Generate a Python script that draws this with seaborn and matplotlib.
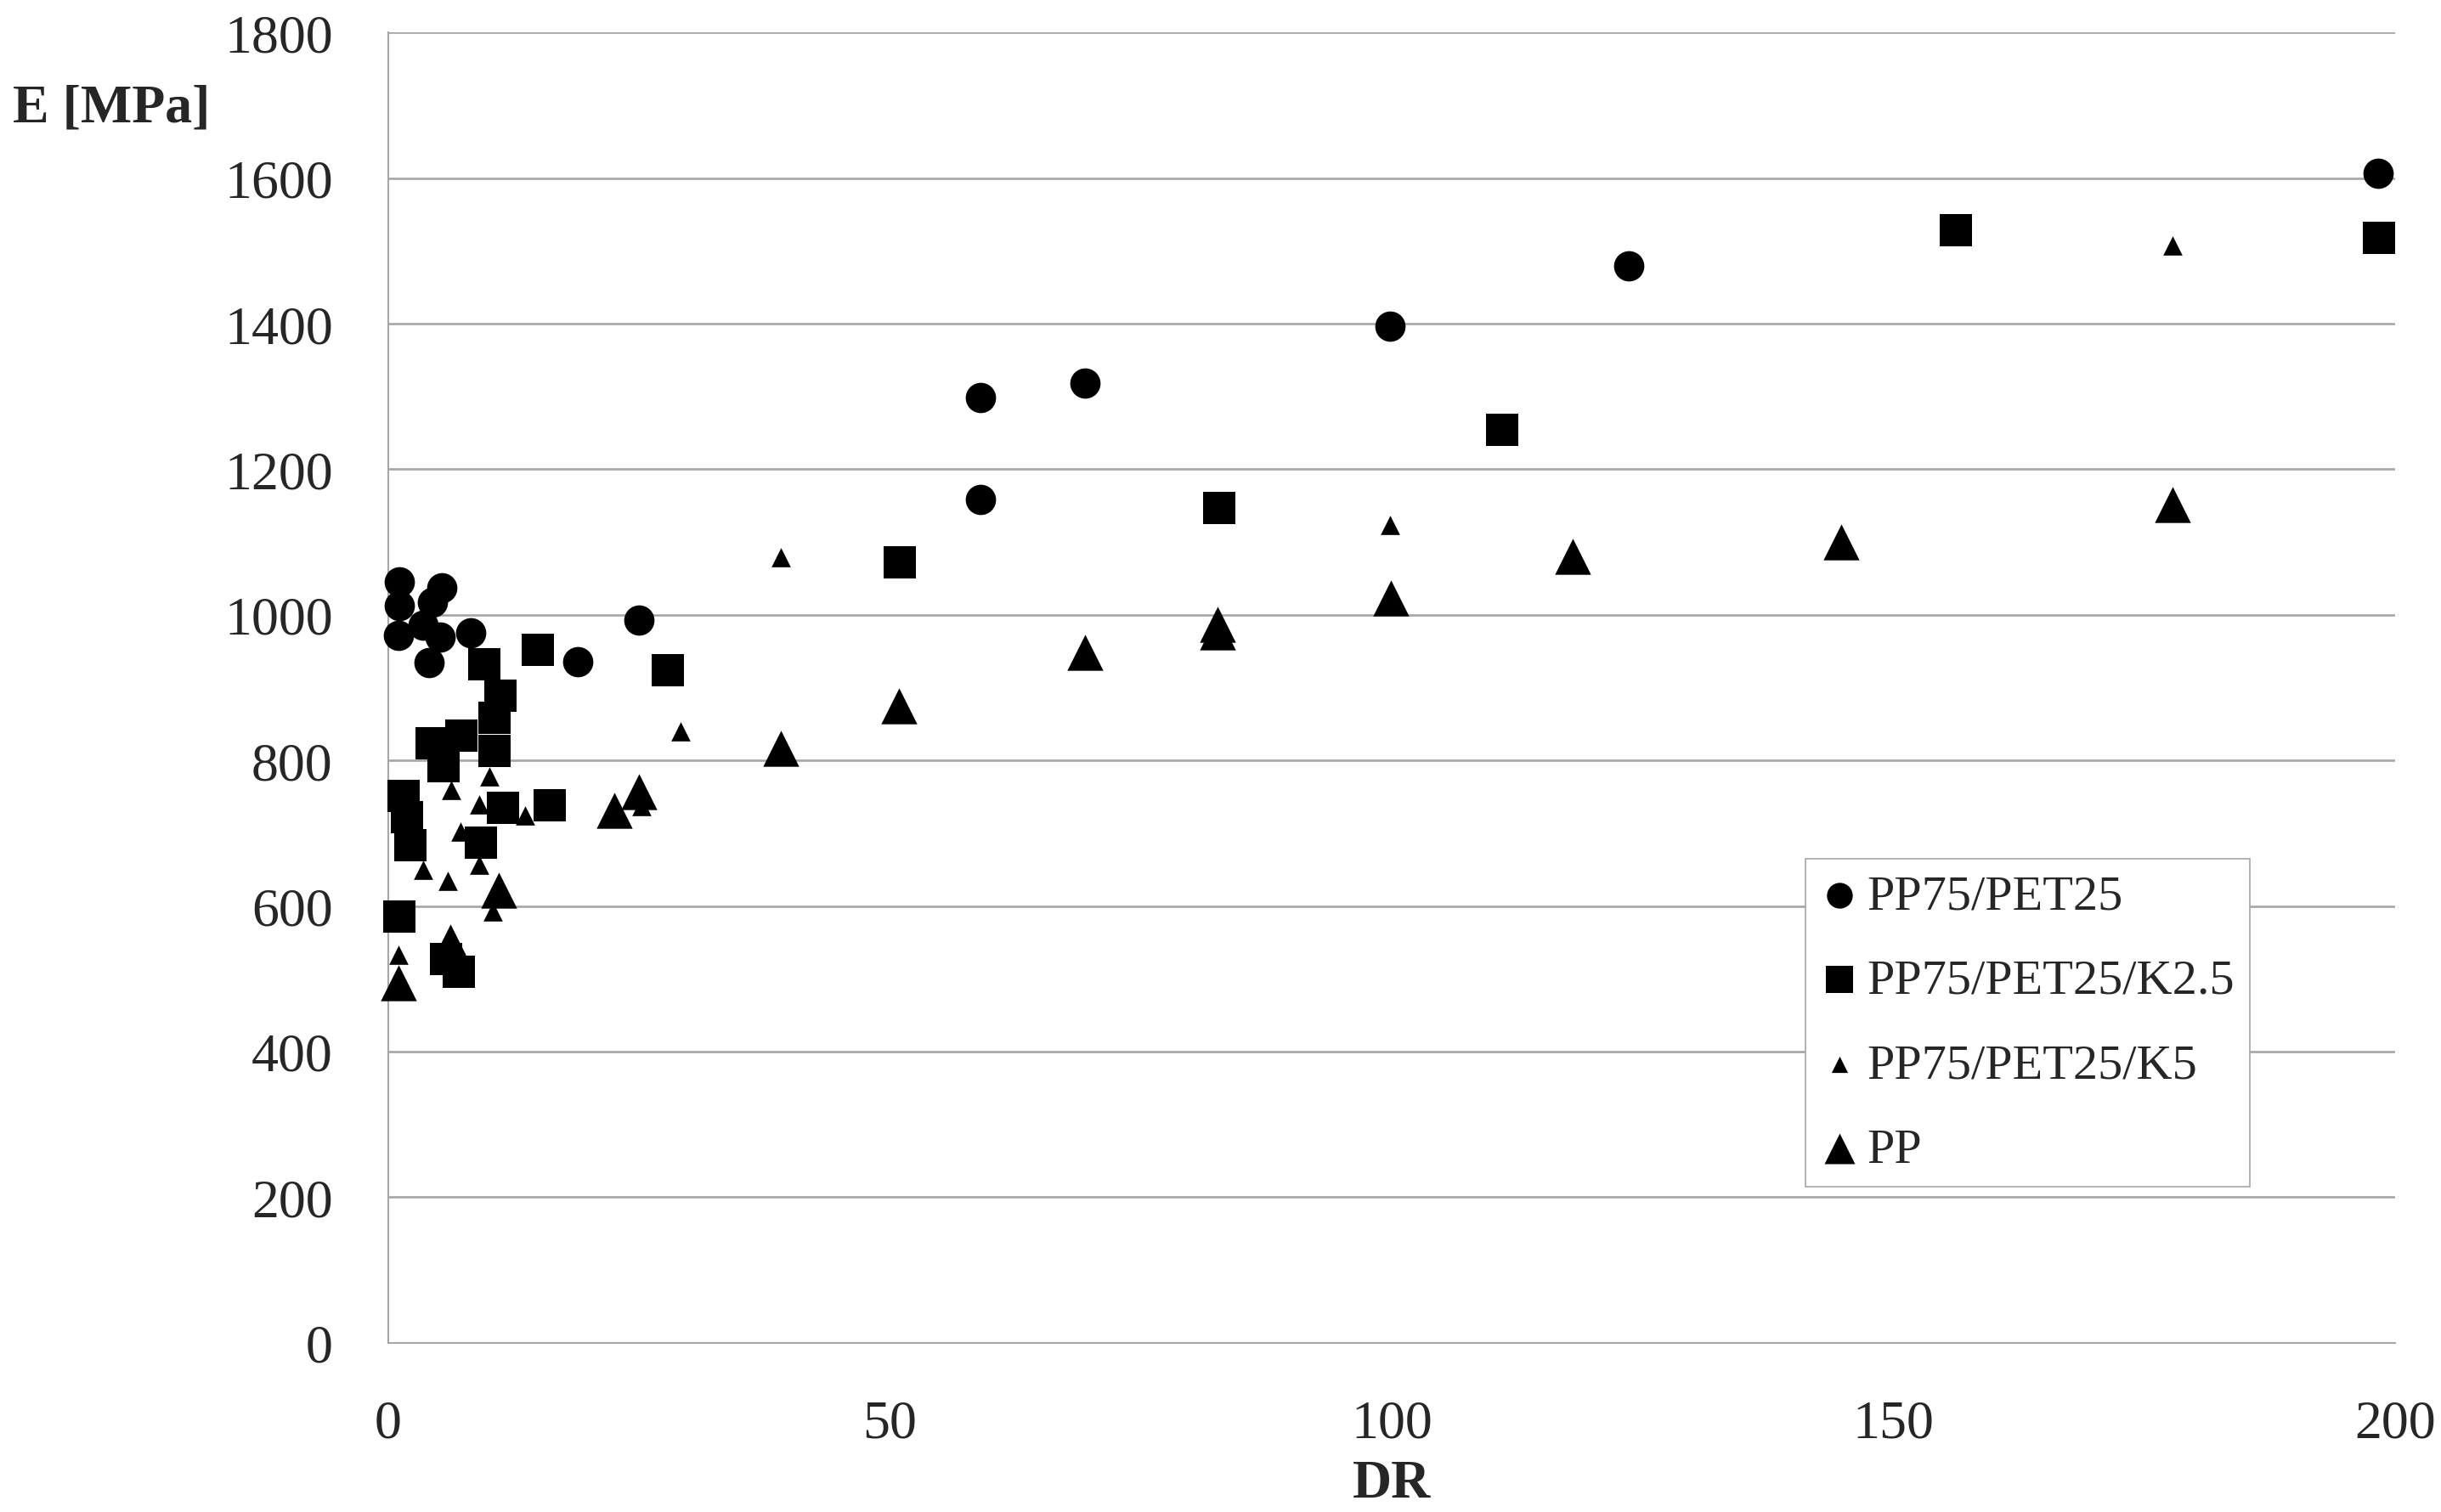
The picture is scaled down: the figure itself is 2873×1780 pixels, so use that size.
import matplotlib
matplotlib.use("Agg")
import matplotlib.pyplot as plt
from matplotlib.ticker import MultipleLocator
import seaborn as sns
import pandas as pd

# ---- data ----
series_names = ["PP75/PET25", "PP75/PET25/K2.5", "PP75/PET25/K5", "PP"]

pet_dr = [1.1, 1.1, 1.0, 3.5, 4.4, 5.3, 5.2, 4.1, 8.2, 18.9, 25.0, 59.0, 59.0, 69.4, 99.8, 123.6, 198.3]
pet_e = [1045, 1013, 972, 986, 1017, 1037, 969, 935, 975, 936, 993, 1298, 1159, 1318, 1397, 1480, 1607]

k25_dr = [14.9, 27.9, 9.6, 11.2, 10.6, 10.6, 7.3, 4.3, 5.5, 1.5, 1.9, 2.2, 11.4, 16.1, 9.2, 1.1, 5.8, 7.0,
          51.0, 82.8, 111.0, 156.2, 198.4]
k25_e = [952, 924, 932, 889, 858, 813, 834, 823, 792, 751, 722, 683, 735, 738, 687, 585, 527, 510,
         1072, 1147, 1254, 1529, 1518]

k5_dr = [29.1, 39.1, 10.1, 6.3, 9.1, 13.6, 7.2, 3.5, 5.9, 9.1, 10.4, 1.0, 25.2, 99.8, 177.8]
k5_e = [840, 1079, 778, 759, 739, 724, 702, 650, 634, 657, 593, 533, 737, 1123, 1507]

pp_dr = [1.0, 6.2, 11.0, 22.5, 25.0, 39.1, 50.9, 69.4, 82.6, 82.6, 99.9, 118.0, 144.8, 177.8]
pp_e = [494, 550, 622, 731, 757, 817, 875, 948, 987, 976, 1023, 1080, 1100, 1152]

# ---- style ----
sns.set_style("white")
plt.rcParams["font.family"] = ["Liberation Serif", "DejaVu Serif"]

W, H = 2873, 1781
fig = plt.figure(figsize=(W / 100, H / 100), dpi=100)
ax = fig.add_axes([457 / W, 1 - 1581.7 / H, (2819 - 457) / W, (1581.7 - 39.3) / H])

grey = "#a6a6a6"
specs = [
    (pet_dr, pet_e, "o", 25.7),
    (k25_dr, k25_e, "s", 27.1),
    (k5_dr, k5_e, "^", 16.3),
    (pp_dr, pp_e, "^", 30.5),
]
for name, (xs, ys, mk, ms) in zip(series_names, specs):
    df = pd.DataFrame({"DR": xs, "E": ys})
    sns.scatterplot(data=df, x="DR", y="E", marker=mk, s=ms ** 2, color="black",
                    linewidth=0, ax=ax, label=name, clip_on=False, zorder=3)

ax.set_xlim(0, 200)
ax.set_ylim(0, 1800)
ax.xaxis.set_major_locator(MultipleLocator(50))
ax.xaxis.set_minor_locator(MultipleLocator(10))
ax.yaxis.set_major_locator(MultipleLocator(200))
ax.yaxis.set_minor_locator(MultipleLocator(40))

ax.grid(axis="y", which="major", color=grey, linewidth=1.9, zorder=0)
ax.grid(axis="x", visible=False)
ax.set_axisbelow(True)

for s in ["top", "right"]:
    ax.spines[s].set_visible(False)
for s in ["left", "bottom"]:
    ax.spines[s].set_color(grey)
    ax.spines[s].set_linewidth(1.5)

ax.tick_params(axis="x", which="major", direction="in", length=15.6, width=1.4, color=grey,
               labelsize=46, pad=48)
ax.tick_params(axis="x", which="minor", direction="in", length=11.3, width=1.4, color=grey)
ax.tick_params(axis="y", which="major", direction="in", length=0, width=1.4, color=grey,
               labelsize=46, pad=47)
ax.tick_params(axis="y", which="minor", direction="in", length=10.8, width=1.4, color=grey)

ax.set_xlabel("")
ax.set_ylabel("")
fig.text(15 / W, 1 - 143 / H, "E [MPa]", fontsize=46, fontweight="bold",
         ha="left", va="baseline")
fig.text(1638 / W, 1 - 1763 / H, "DR", fontsize=46, fontweight="bold",
         ha="center", va="baseline")

leg = ax.legend(loc="lower left", bbox_to_anchor=(0.706, 0.119), borderaxespad=0,
                fontsize=42, frameon=True, fancybox=False, framealpha=1,
                edgecolor=grey, markerscale=0.85, handlelength=0.8,
                handletextpad=0.15, borderpad=0.3, labelspacing=0.8,
                scatterpoints=1)
leg.get_frame().set_linewidth(1.2)

fig.savefig("out.png", dpi=100, facecolor="white")
